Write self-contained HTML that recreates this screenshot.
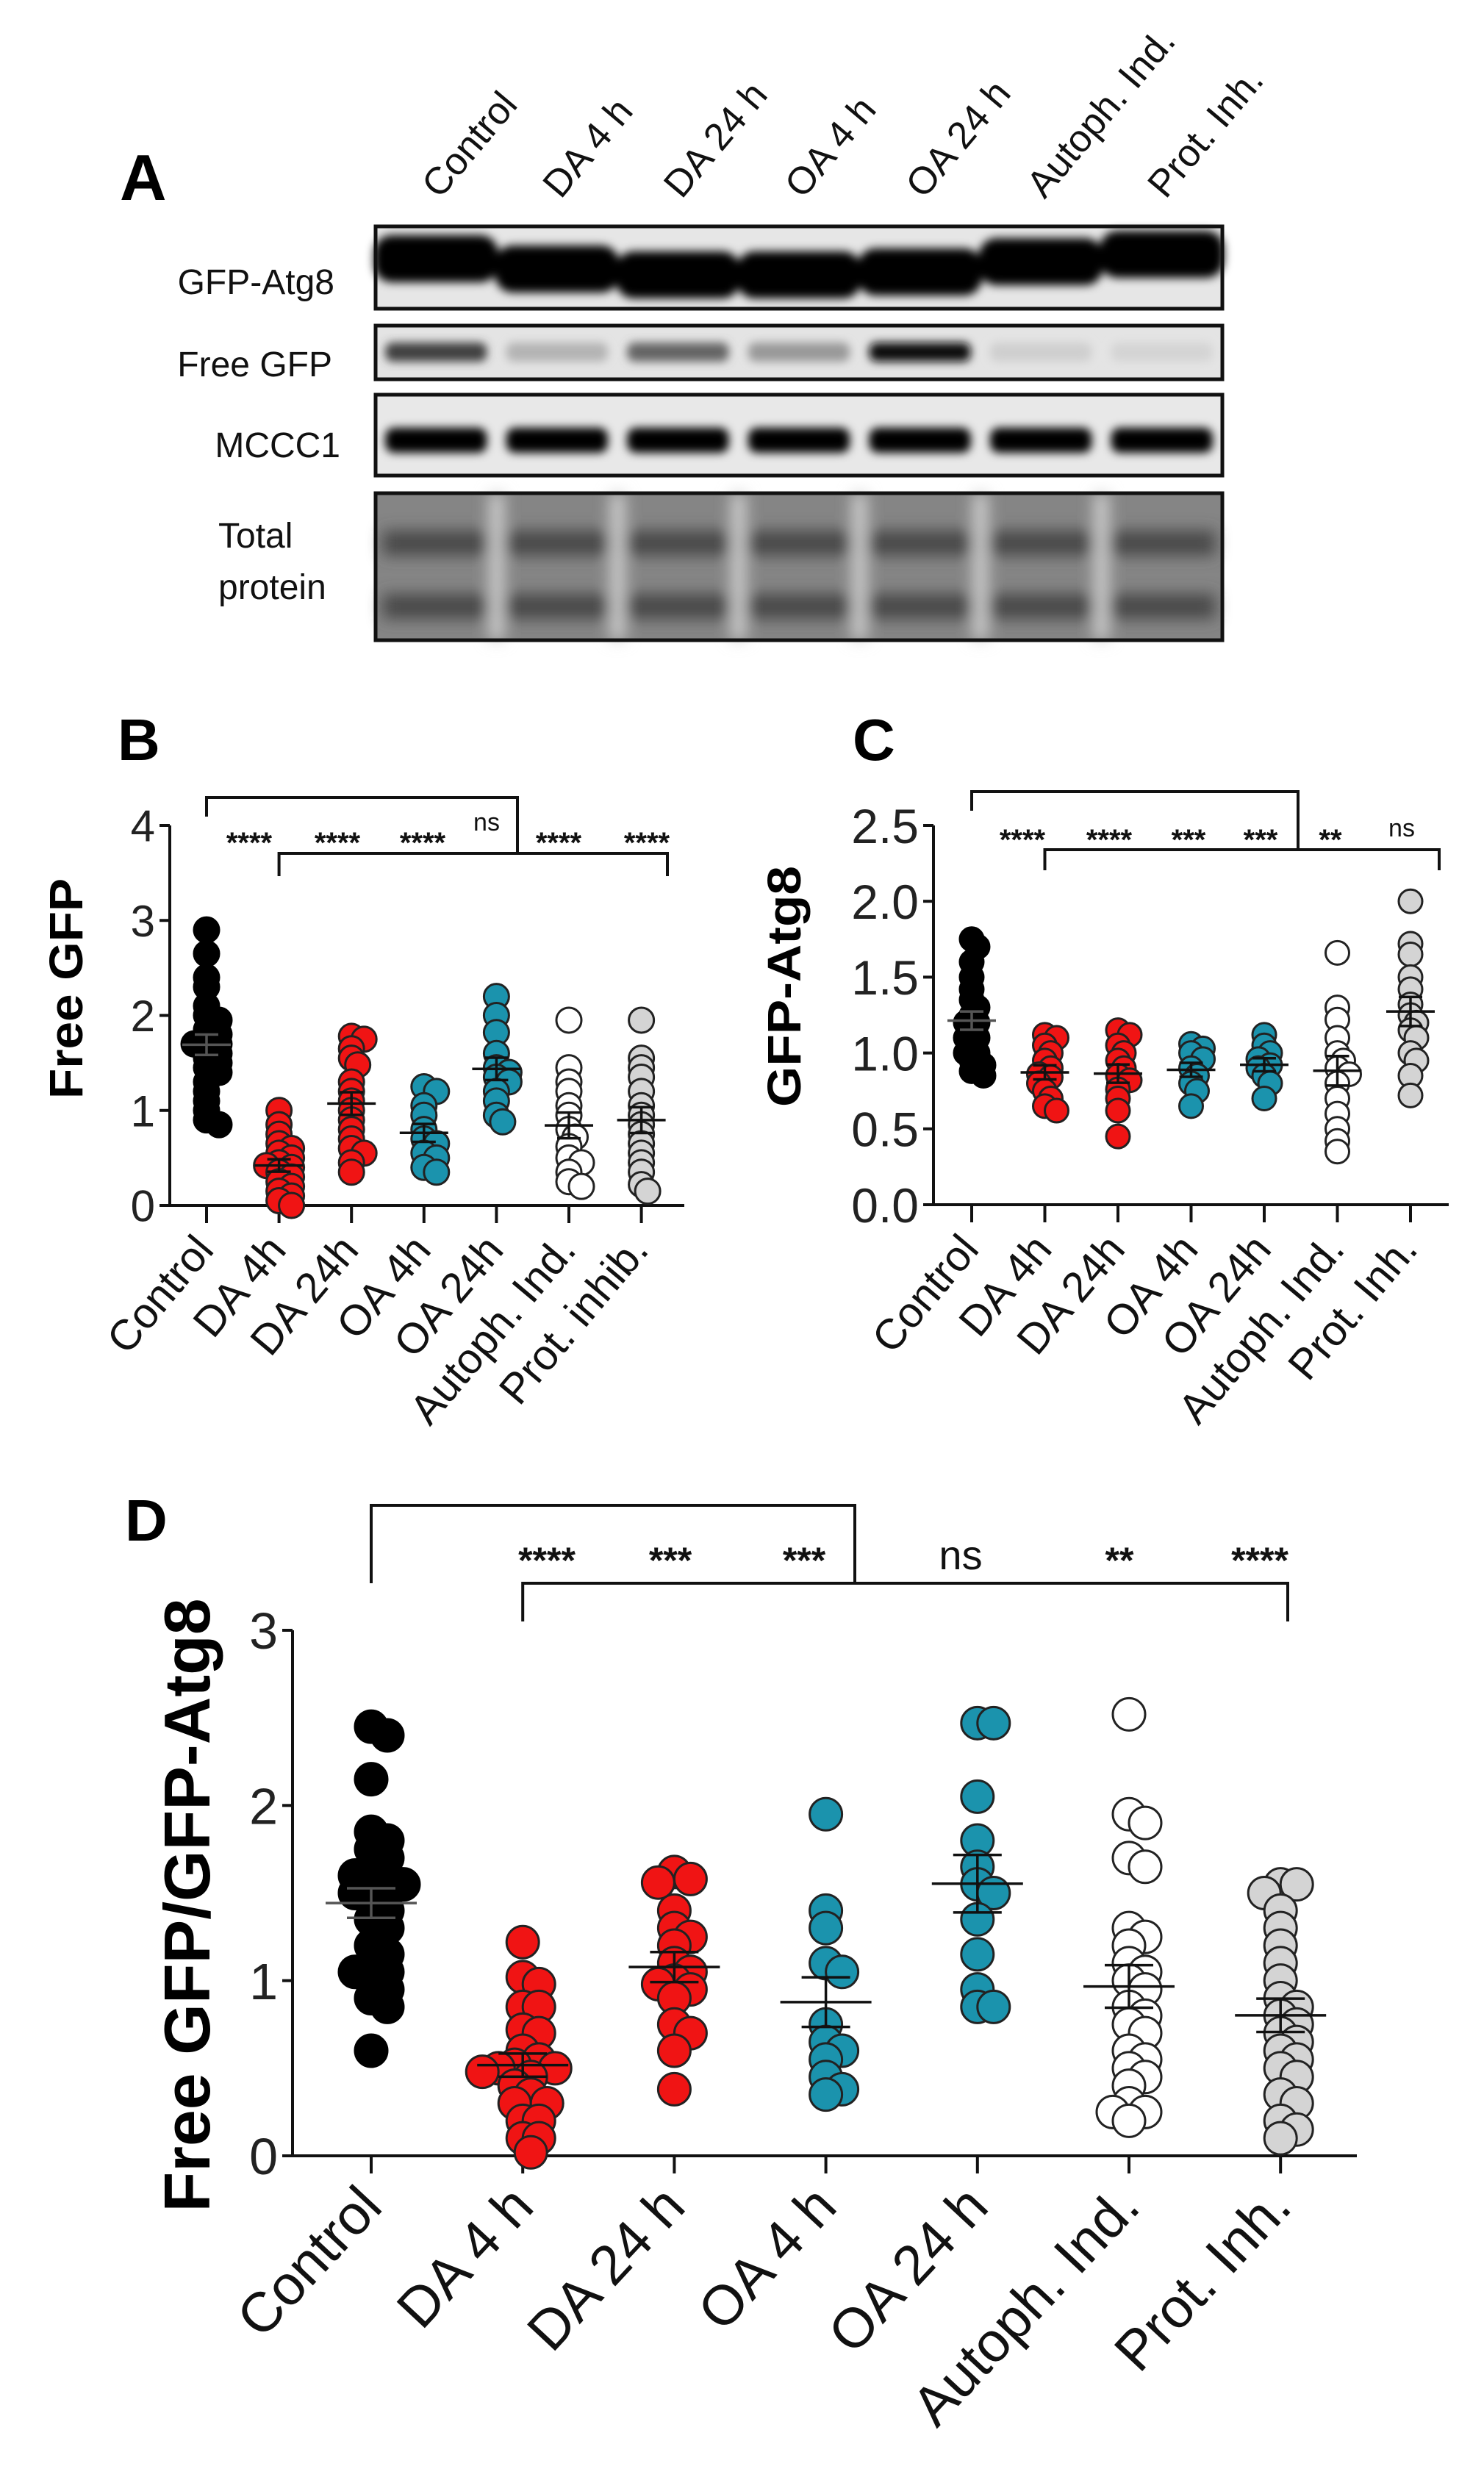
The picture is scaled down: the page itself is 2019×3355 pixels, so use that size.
<!DOCTYPE html>
<html><head><meta charset="utf-8">
<style>
html,body{margin:0;padding:0;background:#fff;}
svg{display:block;}
text{font-family:"Liberation Sans",sans-serif;}
</style></head>
<body>
<svg id="fig" width="2019" height="3355" viewBox="0 0 2019 3355" xmlns="http://www.w3.org/2000/svg">
<defs>
<filter id="blur6" x="-20%" y="-50%" width="140%" height="200%"><feGaussianBlur stdDeviation="6"/></filter>
<filter id="blur10" x="-20%" y="-50%" width="140%" height="200%"><feGaussianBlur stdDeviation="10"/></filter>
</defs>
<g id="panelA"></g>
<g id="panelB"></g>
<g id="panelC"></g>
<g id="panelD"></g>
</svg>
<script>
// ---------- data ----------
const categoriesB = ["Control","DA 4h","DA 24h","OA 4h","OA 24h","Autoph. Ind.","Prot. inhib."];
const categoriesC = ["Control","DA 4h","DA 24h","OA 4h","OA 24h","Autoph. Ind.","Prot. Inh."];
const categoriesD = ["Control","DA 4 h","DA 24 h","OA 4 h","OA 24 h","Autoph. Ind.","Prot. Inh."];
const laneLabels = ["Control","DA 4 h","DA 24 h","OA 4 h","OA 24 h","Autoph. Ind.","Prot. Inh."];
const freeGfpBand = [0.72,0.2,0.55,0.32,0.97,0.08,0.06];
const ticksB = [0,1,2,3,4];
const ticksC = [0,0.5,1.0,1.5,2.0,2.5];
const ticksD = [0,1,2,3];
const starsB = ["****","****","****","ns","****","****"];
const starsC = ["****","****","***","***","**","ns"];
const starsD = ["****","***","***","ns","**","****"];

const bControl=[2.9,2.65,2.4,2.3,2.1,2.0,1.95,1.85,1.8,1.75,1.7,1.7,1.65,1.6,1.55,1.5,1.45,1.4,1.3,1.2,1.1,1.0,0.9,0.85];
const bDA4=[1.0,0.85,0.75,0.65,0.6,0.55,0.5,0.45,0.42,0.4,0.35,0.3,0.25,0.2,0.15,0.1,0.05,0.0];
const bDA24=[1.78,1.75,1.65,1.55,1.48,1.3,1.2,1.1,1.0,0.9,0.8,0.7,0.6,0.55,0.45,0.35];
const bOA4=[1.25,1.2,1.05,0.95,0.8,0.7,0.65,0.55,0.5,0.4,0.35];
const bOA24=[2.2,2.0,1.82,1.6,1.45,1.4,1.35,1.3,1.2,1.1,0.95,0.88];
const bAut=[1.95,1.45,1.3,1.2,1.05,0.95,0.8,0.72,0.62,0.5,0.45,0.35,0.25,0.2];
const bProt=[1.95,1.55,1.45,1.35,1.2,1.05,0.95,0.85,0.75,0.65,0.55,0.45,0.35,0.22,0.15];

const cControl=[1.75,1.7,1.6,1.5,1.42,1.35,1.3,1.25,1.2,1.2,1.15,1.1,1.1,1.05,1.0,1.0,0.95,0.92,0.88,0.85];
const cDA4=[1.12,1.1,1.05,1.0,0.95,0.9,0.86,0.84,0.8,0.75,0.7,0.65,0.62];
const cDA24=[1.15,1.12,1.05,1.0,0.95,0.9,0.85,0.82,0.76,0.7,0.62,0.45];
const cOA4=[1.06,1.03,1.0,0.96,0.9,0.85,0.8,0.75,0.65];
const cOA24=[1.12,1.05,1.0,0.96,0.92,0.9,0.85,0.8,0.7];
const cAut=[1.66,1.3,1.22,1.1,1.0,0.95,0.9,0.86,0.8,0.7,0.6,0.5,0.42,0.35];
const cProt=[2.0,1.72,1.65,1.5,1.42,1.32,1.25,1.2,1.15,1.1,1.0,0.95,0.85,0.72];

const dControl=[2.45,2.4,2.15,1.85,1.8,1.75,1.7,1.65,1.6,1.6,1.55,1.55,1.5,1.5,1.45,1.4,1.35,1.3,1.2,1.15,1.1,1.05,1.05,1.0,0.95,0.9,0.85,0.6];
const dDA4=[1.22,1.02,0.98,0.85,0.85,0.72,0.7,0.6,0.55,0.52,0.5,0.5,0.48,0.45,0.4,0.35,0.3,0.3,0.2,0.2,0.1,0.1,0.02];
const dDA24=[1.62,1.58,1.56,1.4,1.3,1.25,1.2,1.1,1.05,1.0,0.98,0.95,0.9,0.75,0.7,0.6,0.38];
const dOA4=[1.95,1.4,1.3,1.1,1.05,0.75,0.65,0.6,0.55,0.45,0.38,0.35];
const dOA24=[2.47,2.47,2.05,1.8,1.65,1.55,1.5,1.35,1.15,0.95,0.85,0.85];
const dAut=[2.52,1.95,1.9,1.7,1.65,1.3,1.25,1.2,1.1,1.05,1.0,0.95,0.85,0.8,0.75,0.7,0.6,0.55,0.5,0.45,0.4,0.3,0.25,0.25,0.2];
const dProt=[1.55,1.55,1.5,1.4,1.3,1.2,1.1,1.0,0.9,0.85,0.8,0.75,0.7,0.65,0.6,0.55,0.5,0.45,0.35,0.3,0.2,0.15,0.1];

const groupFills = ["#000000","#f01414","#f01414","#1b93ad","#1b93ad","#ffffff","#d4d4d4"];

// ---------- helpers ----------
const NS="http://www.w3.org/2000/svg";
function mk(parent,tag,attrs,text){
  const e=document.createElementNS(NS,tag);
  for(const k in attrs) e.setAttribute(k,attrs[k]);
  if(text!==undefined) e.textContent=text;
  parent.appendChild(e); return e;
}
function mean(a){return a.reduce((s,v)=>s+v,0)/a.length;}
function sem(a){const m=mean(a);const v=a.reduce((s,x)=>s+(x-m)*(x-m),0)/(a.length-1);return Math.sqrt(v/a.length);}

// ---------- Panel A ----------
(function(){
  const g=document.getElementById('panelA');
  const t=mk(g,'text',{x:163,y:272,'font-size':88,'font-weight':'bold'},'A');
  
  
  const bx0=511,bx1=1663,lw=(bx1-bx0)/7;
  laneLabels.forEach((l,i)=>{
    const cx=bx0+lw*(i+0.5);
    const tt=mk(g,'text',{x:cx+5,y:272,'font-size':52,transform:`rotate(-50 ${cx+5} 272)`,fill:'#111'},l);
    
    
  });
  const rows=[["GFP-Atg8",455,400],["Free GFP",452,512],["MCCC1",463,622]];
  rows.forEach(r=>{
    const tt=mk(g,'text',{x:r[1],y:r[2],'font-size':48,'text-anchor':'end',fill:'#111'},r[0]);
    
    
  });
  let tt=mk(g,'text',{x:297,y:745,'font-size':48,fill:'#111'},'Total');
  
  
  tt=mk(g,'text',{x:297,y:815,'font-size':48,fill:'#111'},'protein');
  
  

  const centers=[...Array(7)].map((_,i)=>bx0+lw*(i+0.5));
  function box(y0,y1,name,bg){
    const b=mk(g,'g',{});
    
    
    mk(b,'rect',{x:bx0,y:y0,width:bx1-bx0,height:y1-y0,fill:bg});
    return b;
  }
  function frame(b,y0,y1){mk(b,'rect',{x:bx0,y:y0,width:bx1-bx0,height:y1-y0,fill:'none',stroke:'#111','stroke-width':5});}
  let b=box(308,420,'gfp-atg8-blot','#e6e6e6');
  const gg=mk(b,'g',{filter:'url(#blur6)'});
  centers.forEach((c,i)=>{ const yy=[352,366,374,374,370,356,346][i]; mk(gg,'rect',{x:c-lw/2-2,y:yy-32,width:lw+4,height:64,rx:24,fill:'#000'});});
  frame(b,308,420);
  b=box(443,516,'free-gfp-blot','#e4e4e4');
  const fg=mk(b,'g',{filter:'url(#blur6)'});
  centers.forEach((c,i)=>{ const v=freeGfpBand[i]; const s=Math.round(225-225*v); mk(fg,'rect',{x:c-lw*0.42,y:466,width:lw*0.84,height:26,rx:10,fill:`rgb(${s},${s},${s})`});});
  frame(b,443,516);
  b=box(537,647,'mccc1-blot','#e8e8e8');
  const mg=mk(b,'g',{filter:'url(#blur6)'});
  centers.forEach((c,i)=>{ mk(mg,'rect',{x:c-lw*0.42,y:582,width:lw*0.84,height:34,rx:12,fill:'#000'});});
  frame(b,537,647);
  b=box(671,871,'total-protein-blot','#858585');
  const tg=mk(b,'g',{filter:'url(#blur10)'});
  centers.forEach((c,i)=>{
    mk(tg,'rect',{x:c-lw*0.44,y:722,width:lw*0.88,height:34,fill:'#4a4a4a'});
    mk(tg,'rect',{x:c-lw*0.44,y:808,width:lw*0.88,height:34,fill:'#4a4a4a'});
  });
  for(let i=1;i<7;i++){ mk(tg,'rect',{x:bx0+lw*i-10,y:671,width:20,height:200,fill:'#cdcdcd'});}
  frame(b,671,871);
})();

// ---------- dot plots ----------
function swarm(values,scaleY,r,minD){
  const idx=values.map((v,i)=>i).sort((a,b)=>values[b]-values[a]);
  const placed=[];const out=new Array(values.length);
  idx.forEach(i=>{
    const y=scaleY(values[i]);
    let dx=0;
    const offs=[0];
    for(let s=1;s<20;s++){offs.push(s*r*0.5);offs.push(-s*r*0.5);}
    for(const o of offs){
      if(placed.every(p=>Math.hypot(p[0]-o,p[1]-y)>=minD)){dx=o;break;}
    }
    placed.push([dx,y]); out[i]=[dx,y];
  });
  return out;
}
function dotPlot(cfg){
  const g=document.getElementById(cfg.id);
  const sy=v=>cfg.y0-(v-cfg.vmin)/(cfg.vmax-cfg.vmin)*(cfg.y0-cfg.y1);
  const sx=i=>cfg.cx0+i*cfg.step;
  let t=mk(g,'text',{x:cfg.letterX,y:cfg.letterY,'font-size':80,'font-weight':'bold'},cfg.letter);
  
  
  const ax=mk(g,'g',{stroke:'#111','stroke-width':4,fill:'none'});
  
  
  mk(ax,'line',{x1:cfg.ax,y1:sy(cfg.ticks[cfg.ticks.length-1]),x2:cfg.ax,y2:cfg.y0});
  mk(ax,'line',{x1:cfg.ax,y1:cfg.y0,x2:cfg.axEnd,y2:cfg.y0});
  cfg.ticks.forEach(v=>{
    mk(ax,'line',{x1:cfg.ax-14,y1:sy(v),x2:cfg.ax,y2:sy(v)});
    const tl=mk(g,'text',{x:cfg.ax-20,y:sy(v)+cfg.tickFs*0.36,'font-size':cfg.tickFs,'text-anchor':'end',fill:'#222'},cfg.tickFmt(v));
    
    
  });
  cfg.cats.forEach((c,i)=>{
    mk(ax,'line',{x1:sx(i),y1:cfg.y0,x2:sx(i),y2:cfg.y0+24});
    const ex=sx(i)+cfg.labDx, ey=cfg.y0+cfg.labDy;
    const tl=mk(g,'text',{x:ex,y:ey,'font-size':cfg.labFs,'text-anchor':'end',fill:'#111',transform:`rotate(${cfg.labRot} ${ex} ${ey})`},c);
    
    
  });
  const yt=mk(g,'text',{x:cfg.ytX,y:cfg.ytY,'font-size':cfg.ytFs,'font-weight':'bold','text-anchor':'middle',textLength:cfg.ytLen,lengthAdjust:'spacingAndGlyphs',transform:`rotate(-90 ${cfg.ytX} ${cfg.ytY})`},cfg.ytitle);
  
  
  cfg.series.forEach((vals,i)=>{
    const sg=mk(g,'g',{});
    
    
    const pos=swarm(vals,sy,cfg.r,cfg.minD);
    vals.forEach((v,j)=>{
      const c=mk(sg,'circle',{cx:sx(i)+pos[j][0],cy:sy(v),r:cfg.r,fill:groupFills[i],stroke:i===0?'#000':'#222','stroke-width':cfg.sw});
      
      
    });
    const m=mean(vals),s=sem(vals);
    const eb=mk(sg,'g',{stroke:i===0?'#555':'#111','stroke-width':cfg.sw+0.5});
    
    
    mk(eb,'line',{x1:sx(i)-cfg.mw,y1:sy(m),x2:sx(i)+cfg.mw,y2:sy(m)});
    mk(eb,'line',{x1:sx(i),y1:sy(m+s),x2:sx(i),y2:sy(m-s)});
    mk(eb,'line',{x1:sx(i)-cfg.cw,y1:sy(m+s),x2:sx(i)+cfg.cw,y2:sy(m+s)});
    mk(eb,'line',{x1:sx(i)-cfg.cw,y1:sy(m-s),x2:sx(i)+cfg.cw,y2:sy(m-s)});
  });
  const br=mk(g,'g',{stroke:'#111','stroke-width':4,fill:'none'});
  
  
  const B=cfg.br;
  mk(br,'polyline',{points:`${sx(0)},${B.topDrop} ${sx(0)},${B.top} ${B.topRight},${B.top} ${B.topRight},${B.low}`});
  mk(br,'polyline',{points:`${sx(1)},${B.lowDrop} ${sx(1)},${B.low} ${B.lowRight},${B.low} ${B.lowRight},${B.lowDrop}`});
  cfg.stars.forEach((s,i)=>{
    const isNs=s==='ns';
    const st=mk(g,'text',{x:cfg.starX[i],y:isNs?cfg.nsY:cfg.starY,'font-size':isNs?cfg.nsFs:cfg.starFs,'text-anchor':'middle',fill:'#111','font-weight':isNs?'normal':'bold'},s);
    
    
  });
}

dotPlot({id:'panelB',letter:'B',letterX:160,letterY:1034,cats:categoriesB,series:[bControl,bDA4,bDA24,bOA4,bOA24,bAut,bProt],
  vmin:0,vmax:4,y0:1640,y1:1123,ax:231,axEnd:931,cx0:281,step:98.6,ticks:ticksB,tickFmt:v=>String(v),tickFs:60,
  labDx:12,labDy:62,labFs:58,labRot:-50,ytitle:'Free GFP',ytX:112,ytY:1345,ytFs:64,ytLen:300,
  r:17,minD:12,sw:3,mw:33,cw:16,
  br:{top:1085,topDrop:1111,topRight:704,low:1161,lowDrop:1192,lowRight:908},
  stars:starsB,starX:[339,459,575,662,760,880],starY:1160,nsY:1130,starFs:40,nsFs:34});

dotPlot({id:'panelC',letter:'C',letterX:1160,letterY:1034,cats:categoriesC,series:[cControl,cDA4,cDA24,cOA4,cOA24,cAut,cProt],
  vmin:0,vmax:2.5,y0:1639,y1:1123,ax:1270,axEnd:1971,cx0:1322,step:99.5,ticks:ticksC,tickFmt:v=>v.toFixed(1),tickFs:66,
  labDx:12,labDy:62,labFs:58,labRot:-50,ytitle:'GFP-Atg8',ytX:1089,ytY:1342,ytFs:64,ytLen:328,
  r:16,minD:12,sw:3,mw:33,cw:16,
  br:{top:1077,topDrop:1103,topRight:1766,low:1156,lowDrop:1184,lowRight:1958},
  stars:starsC,starX:[1391,1509,1617,1715,1810,1907],starY:1156,nsY:1138,starFs:40,nsFs:34});

dotPlot({id:'panelD',letter:'D',letterX:170,letterY:2096,cats:categoriesD,series:[dControl,dDA4,dDA24,dOA4,dOA24,dAut,dProt],
  vmin:0,vmax:3,y0:2933,y1:2218,ax:398,axEnd:1846,cx0:505,step:206.2,ticks:ticksD,tickFmt:v=>String(v),tickFs:70,
  labDx:18,labDy:72,labFs:76,labRot:-47,ytitle:'Free GFP/GFP-Atg8',ytX:285,ytY:2592,ytFs:88,ytLen:835,
  r:22,minD:22,sw:3,mw:62,cw:33,
  br:{top:2048,topDrop:2154,topRight:1163,low:2154,lowDrop:2206,lowRight:1752},
  stars:starsD,starX:[744,912,1094,1307,1523,1714],starY:2140,nsY:2135,starFs:50,nsFs:56});
</script>
</body></html>
